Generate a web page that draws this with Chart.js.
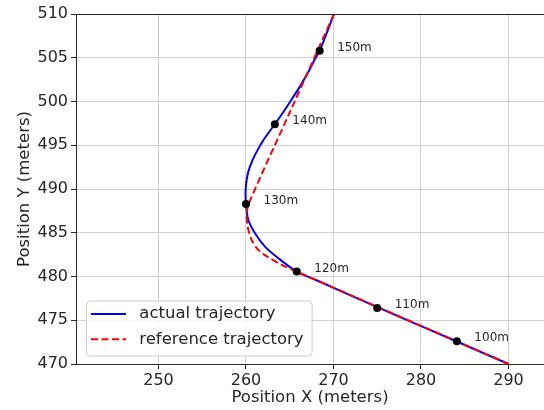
<!DOCTYPE html>
<html>
<head>
<meta charset="utf-8">
<script src="https://cdn.jsdelivr.net/npm/chart.js@4.4.1/dist/chart.umd.min.js"></script>
<style>
html, body { margin: 0; padding: 0; background: #fff; }
#wrap { width: 544px; height: 410px; }
</style>
</head>
<body>
<div id="wrap"><canvas id="traj" width="544" height="410"></canvas></div>
<script>
// path points (meters)
var actualX = [290.0, 284.1, 275.0, 268.0, 265.8, 263.7, 262.17, 261.03, 260.26, 260.0, 259.95, 260.05, 260.3, 260.75, 261.35, 262.0, 262.7, 263.31, 264.19, 265.03, 266.17, 267.25, 267.85, 268.42, 270.06];
var actualY = [470.0, 472.57, 476.5, 479.6, 480.56, 482.09, 483.42, 484.95, 486.48, 488.39, 489.6, 490.9, 492.1, 493.3, 494.5, 495.6, 496.6, 497.42, 498.68, 499.95, 501.73, 503.6, 504.8, 505.8, 510.0];
var refX = [290.0, 275.0, 265.41, 264.08, 262.55, 261.41, 260.65, 260.19, 260.08, 260.34, 265.2, 270.06];
var refY = [470.0, 476.54, 480.72, 481.33, 482.2, 483.04, 484.19, 485.71, 487.24, 488.39, 499.2, 510.0];

// distance markers along the actual path
var markX = [284.1, 275.0, 265.8, 260.0, 263.3, 268.42];
var markY = [472.6, 476.4, 480.56, 488.3, 497.4, 505.8];
var markLabels = ['100m', '110m', '120m', '130m', '140m', '150m'];

var xTicks = [250, 260, 270, 280, 290];
var yTicks = [470, 475, 480, 485, 490, 495, 500, 505, 510];

function pts(xs, ys) {
  return xs.map(function (x, i) { return { x: x, y: ys[i] }; });
}

Chart.defaults.font.family = "'DejaVu Sans', sans-serif";
Chart.defaults.color = '#000';

var ink = '#262626';
var gridCol = '#d0d0d0';

// top spine, distance labels and the boxed legend
var extras = {
  id: 'extras',
  beforeDatasetsDraw: function (chart) {
    var ctx = chart.ctx, a = chart.chartArea;
    ctx.save();
    ctx.strokeStyle = ink;
    ctx.lineWidth = 1;
    ctx.beginPath();
    ctx.moveTo(a.left, a.top + 0.5);
    ctx.lineTo(a.right, a.top + 0.5);
    ctx.stroke();
    ctx.restore();
  },
  afterDatasetsDraw: function (chart) {
    var ctx = chart.ctx, a = chart.chartArea;
    var sx = chart.scales.x, sy = chart.scales.y;
    ctx.save();
    ctx.font = "12px 'DejaVu Sans'";
    ctx.fillStyle = ink;
    ctx.textBaseline = 'alphabetic';
    for (var i = 0; i < markLabels.length; i++) {
      ctx.fillText(markLabels[i], sx.getPixelForValue(markX[i]) + 17.5, sy.getPixelForValue(markY[i]));
    }

    // legend box in lower left
    var items = chart.data.datasets.filter(function (d) { return d.legendRow !== undefined; });
    items.sort(function (p, q) { return p.legendRow - q.legendRow; });
    ctx.font = "16.5px 'DejaVu Sans'";
    var tw = 0;
    items.forEach(function (d) { tw = Math.max(tw, ctx.measureText(d.label).width); });
    var bx = a.left + 10, bh = 55, by = a.bottom - 8.5 - bh;
    var bw = 5 + 35 + 13.3 + tw + 8;
    ctx.beginPath();
    ctx.roundRect(bx + 0.5, by + 0.5, bw, bh, 4);
    ctx.fillStyle = 'rgba(255,255,255,0.8)';
    ctx.fill();
    ctx.strokeStyle = '#cccccc';
    ctx.lineWidth = 1;
    ctx.stroke();
    items.forEach(function (d, k) {
      var ly = by + 13.5 + k * 25.3;
      ctx.beginPath();
      ctx.strokeStyle = d.borderColor;
      ctx.lineWidth = d.borderWidth;
      ctx.setLineDash(d.borderDash || []);
      ctx.moveTo(bx + 5, ly);
      ctx.lineTo(bx + 40, ly);
      ctx.stroke();
      ctx.setLineDash([]);
      ctx.fillStyle = ink;
      ctx.textBaseline = 'middle';
      ctx.fillText(d.label, bx + 53.3, ly);
    });
    ctx.restore();
  }
};

new Chart(document.getElementById('traj'), {
  type: 'scatter',
  data: {
    datasets: [
      {
        label: 'markers',
        data: pts(markX, markY),
        pointRadius: 4,
        pointBackgroundColor: '#000',
        pointBorderWidth: 0,
        showLine: false,
        order: 0
      },
      {
        label: 'reference trajectory',
        legendRow: 1,
        data: pts(refX, refY),
        showLine: true,
        borderColor: '#ff0000',
        borderWidth: 2,
        borderDash: [7, 3.5],
        pointRadius: 0,
        tension: 0.3,
        fill: false,
        order: 1
      },
      {
        label: 'actual trajectory',
        legendRow: 0,
        data: pts(actualX, actualY),
        showLine: true,
        borderColor: '#0000ff',
        borderWidth: 2,
        pointRadius: 0,
        tension: 0.3,
        fill: false,
        order: 2
      }
    ]
  },
  options: {
    responsive: false,
    animation: false,
    layout: { autoPadding: false, padding: { top: 14, right: 0, left: 0, bottom: 0 } },
    plugins: {
      legend: { display: false },
      tooltip: { enabled: false }
    },
    scales: {
      x: {
        type: 'linear',
        min: 240.57,
        max: 294.06,
        afterBuildTicks: function (s) { s.ticks = xTicks.map(function (v) { return { value: v }; }); },
        afterFit: function (s) { s.height = 46; },
        grid: { color: gridCol, lineWidth: 1, tickLength: 5, tickColor: ink },
        border: { display: true, color: ink, width: 1 },
        ticks: { font: { size: 16 }, color: ink, padding: 2, maxRotation: 0 },
        title: { display: true, text: 'Position X (meters)', font: { size: 16.5 }, color: ink, padding: { top: 0, bottom: 2 } }
      },
      y: {
        type: 'linear',
        min: 470,
        max: 510,
        afterBuildTicks: function (s) { s.ticks = yTicks.map(function (v) { return { value: v }; }); },
        afterFit: function (s) { s.width = 76; },
        grid: { color: gridCol, lineWidth: 1, tickLength: 5, tickColor: ink },
        border: { display: true, color: ink, width: 1 },
        ticks: { font: { size: 16 }, color: ink, padding: 3 },
        title: { display: true, text: 'Position Y (meters)', font: { size: 16.5 }, color: ink, padding: { top: 15, bottom: 0 } }
      }
    }
  },
  plugins: [extras]
});
</script>
</body>
</html>
